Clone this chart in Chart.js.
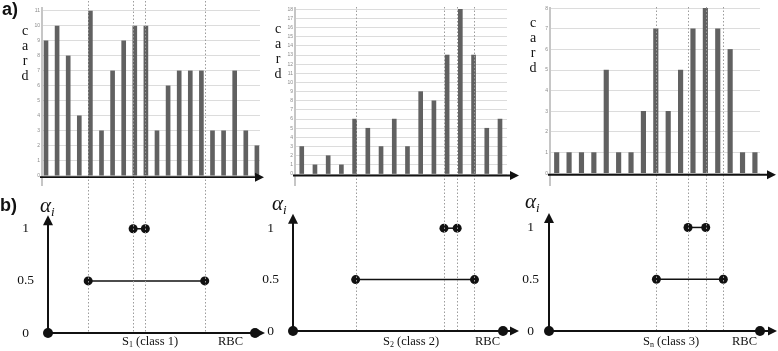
<!DOCTYPE html>
<html><head><meta charset="utf-8">
<script src="https://cdn.jsdelivr.net/npm/chart.js@4.4.1/dist/chart.umd.min.js"></script>
<style>
html,body{margin:0;padding:0;background:#fff}
#wrap{position:relative;width:778px;height:351px;overflow:hidden;background:#fff}
canvas{position:absolute;top:0}
.t{position:absolute;white-space:nowrap;line-height:1;color:#111}
.lbl{font-family:"Liberation Sans",Arial,sans-serif;font-weight:bold;font-size:18px}
.card{position:absolute;width:12px;text-align:center;font-family:"Liberation Serif",serif;font-size:14px;line-height:15px;color:#111}
.alpha{font-family:"Liberation Serif",serif;font-style:italic;font-size:21px}
.alpha sub{font-size:13px;vertical-align:-4px;line-height:0}
.cls{font-family:"Liberation Serif",serif;font-size:12.5px}
.cls sub{font-size:8px;vertical-align:-2px;line-height:0}
</style></head>
<body><div id="wrap">
<canvas id="c1" width="268" height="351" style="left:0px"></canvas>
<canvas id="c2" width="260" height="351" style="left:262px"></canvas>
<canvas id="c3" width="256" height="351" style="left:522px"></canvas>

<div class="t lbl" style="left:2px;top:0px">a)</div>
<div class="t lbl" style="left:0px;top:196px">b)</div>
<div class="card" style="left:19px;top:23px">c<br>a<br>r<br>d</div>
<div class="card" style="left:272px;top:21px">c<br>a<br>r<br>d</div>
<div class="card" style="left:527px;top:15px">c<br>a<br>r<br>d</div>
<div class="t alpha" style="left:40px;top:195px">α<sub>i</sub></div>
<div class="t alpha" style="left:272px;top:193px">α<sub>i</sub></div>
<div class="t alpha" style="left:525px;top:191px">α<sub>i</sub></div>
<div class="t cls" style="left:122px;top:335px">S<sub>1</sub> (class 1)</div>
<div class="t cls" style="left:218px;top:335px">RBC</div>
<div class="t cls" style="left:383px;top:335px">S<sub>2</sub> (class 2)</div>
<div class="t cls" style="left:475px;top:335px">RBC</div>
<div class="t cls" style="left:643px;top:335px">S<sub>n</sub> (class 3)</div>
<div class="t cls" style="left:732px;top:335px">RBC</div>
</div>
<script>
// ---- data ----
const cardValues1 = [9,10,8,4,11,3,7,9,10,10,3,6,7,7,7,3,3,7,3,2];
const cardValues2 = [3,1,2,1,6,5,3,6,3,9,8,13,18,13,5,6];
const cardValues3 = [1,1,1,1,5,1,1,3,7,3,5,7,8,7,6,1,1];
const cardTicks1 = [0,1,2,3,4,5,6,7,8,9,10,11];
const cardTicks2 = [0,1,2,3,4,5,6,7,8,9,10,11,12,13,14,15,16,17,18];
const cardTicks3 = [0,1,2,3,4,5,6,7,8];
const alphaTicks = [0, 0.5, 1];
// interval ends (in bar-index units) for alpha = 0.5 and alpha = 1
const alphaHalf1 = [3.8, 14.3];
const alphaFull1 = [7.85, 8.95];
const alphaHalf2 = [4.08, 13.07];
const alphaFull2 = [10.76, 11.76];
const alphaHalf3 = [8.05, 13.45];
const alphaFull3 = [10.6, 12.03];

// ---- layout (page pixel positions) ----
const panels = [
  {id:'c1', left:0, width:268, axisW:42, areaRight:260, top:8, split:185, bottom:333,
   xMin:-0.36, xMax:19.28, tMin:-0.62, tMax:11.2, bMax:1.42, yTip:1.13,
   topTip:264, botDot:255, botTip:265, botPad:8, barW:4, axisDx:6, dotTop:1},
  {id:'c2', left:262, width:260, axisW:33, areaRight:507, top:8, split:185, bottom:331,
   xMin:-0.51, xMax:15.53, tMin:-1.2, tMax:18.14, bMax:1.42, yTip:1.14,
   topTip:519, botDot:503, botTip:519, botPad:16, barW:4, axisDx:-2, dotTop:7},
  {id:'c3', left:522, width:256, axisW:28, areaRight:760, top:8, split:185, bottom:331,
   xMin:-0.54, xMax:16.41, tMin:-0.57, tMax:8.01, bMax:1.41, yTip:1.14,
   topTip:776, botDot:760, botTip:777, botPad:11, barW:4.5, axisDx:-1, dotTop:7}
];

function decoPlugin(P, marks) {
  return {
    id: 'deco',
    afterDatasetsDraw(chart) {
      const ctx = chart.ctx, ca = chart.chartArea;
      const x = chart.scales.x, yTop = chart.scales.yTop, yBot = chart.scales.yBot;
      const L = P.left;
      const y0 = yBot.getPixelForValue(0);
      ctx.save();
      // dotted separators
      ctx.strokeStyle = '#9c9c9c'; ctx.lineWidth = 1; ctx.setLineDash([1.5, 2]);
      marks.forEach(v => {
        const px = Math.round(x.getPixelForValue(v)) + 0.5;
        ctx.beginPath(); ctx.moveTo(px, P.dotTop); ctx.lineTo(px, y0); ctx.stroke();
      });
      ctx.setLineDash([]);
      ctx.strokeStyle = '#111'; ctx.fillStyle = '#111';
      // top x axis
      const yt = yTop.getPixelForValue(0) + 1.5;
      ctx.lineWidth = 1.8;
      ctx.beginPath(); ctx.moveTo(ca.left - 2, yt); ctx.lineTo(P.topTip - L - 7, yt); ctx.stroke();
      ctx.beginPath(); ctx.moveTo(P.topTip - L, yt); ctx.lineTo(P.topTip - L - 9, yt - 4.5); ctx.lineTo(P.topTip - L - 9, yt + 4.5); ctx.closePath(); ctx.fill();
      // bottom axes
      const ax = ca.left + P.axisDx;
      const yTipPx = yBot.getPixelForValue(P.yTip);
      ctx.lineWidth = 2;
      ctx.beginPath(); ctx.moveTo(ax, y0); ctx.lineTo(P.botTip - L - 7, y0); ctx.stroke();
      ctx.beginPath(); ctx.moveTo(P.botTip - L, y0); ctx.lineTo(P.botTip - L - 9, y0 - 4.5); ctx.lineTo(P.botTip - L - 9, y0 + 4.5); ctx.closePath(); ctx.fill();
      ctx.beginPath(); ctx.moveTo(ax, y0); ctx.lineTo(ax, yTipPx + 8); ctx.stroke();
      ctx.beginPath(); ctx.moveTo(ax, yTipPx); ctx.lineTo(ax - 5, yTipPx + 10); ctx.lineTo(ax + 5, yTipPx + 10); ctx.closePath(); ctx.fill();
      ctx.beginPath(); ctx.arc(ax, y0, 5, 0, Math.PI * 2); ctx.fill();
      ctx.beginPath(); ctx.arc(P.botDot - L, y0, 5, 0, Math.PI * 2); ctx.fill();
      ctx.restore();
    }
  };
}

function fixAxis(P) {
  return s => { s.width = P.axisW; s.paddingTop = 0; s.paddingBottom = 0; s.paddingLeft = 0; s.paddingRight = 0; };
}

function makeChart(P, values, ticks, half, full) {
  const segStyle = {type:'line', xAxisID:'x', yAxisID:'yBot', borderColor:'#111', borderWidth:1.5,
    pointRadius:4.5, pointBackgroundColor:'#111', pointBorderColor:'#111', pointBorderWidth:0, clip:false};
  return new Chart(document.getElementById(P.id), {
    type: 'bar',
    data: { datasets: [
      {type:'bar', label:'card', data: values.map((v, i) => ({x:i, y:v})), xAxisID:'x', yAxisID:'yTop',
       backgroundColor:'#616161', borderWidth:0, barThickness:P.barW},
      Object.assign({label:'alpha 0.5', data: half.map(v => ({x:v, y:0.5}))}, segStyle),
      Object.assign({label:'alpha 1', data: full.map(v => ({x:v, y:1}))}, segStyle)
    ]},
    options: {
      responsive:false, animation:false, devicePixelRatio:1, events:[],
      layout:{padding:{left:0, right:P.width - (P.areaRight - P.left), top:P.top, bottom:351 - P.bottom}},
      plugins:{legend:{display:false}, tooltip:{enabled:false}},
      scales:{
        x:{type:'linear', display:false, min:P.xMin, max:P.xMax, offset:false, grid:{offset:false}},
        yTop:{type:'linear', position:'left', stack:'s', stackWeight:P.split - P.top, weight:2,
          min:P.tMin, max:P.tMax, beginAtZero:false,
          afterBuildTicks: s => { s.ticks = ticks.map(v => ({value:v})); },
          afterFit: fixAxis(P),
          grid:{color:'#dcdcdc', lineWidth:1, drawTicks:false},
          border:{display:true, color:'#c6c6c6', width:2},
          ticks:{autoSkip:false, font:{size:5, family:'Liberation Sans'}, color:'#8a8a8a', padding:2, callback:v => String(v)}},
        yBot:{type:'linear', position:'left', stack:'s', stackWeight:P.bottom - P.split, weight:1,
          min:0, max:P.bMax,
          afterBuildTicks: s => { s.ticks = alphaTicks.map(v => ({value:v})); },
          afterFit: fixAxis(P),
          grid:{display:false, drawTicks:false},
          border:{display:false},
          ticks:{autoSkip:false, font:{size:13.5, family:'Liberation Serif'}, color:'#111', padding:P.botPad, crossAlign:'center', callback:v => String(v)}}
      }
    },
    plugins:[decoPlugin(P, half.concat(full))]
  });
}

makeChart(panels[0], cardValues1, cardTicks1, alphaHalf1, alphaFull1);
makeChart(panels[1], cardValues2, cardTicks2, alphaHalf2, alphaFull2);
makeChart(panels[2], cardValues3, cardTicks3, alphaHalf3, alphaFull3);
</script>
</body></html>
